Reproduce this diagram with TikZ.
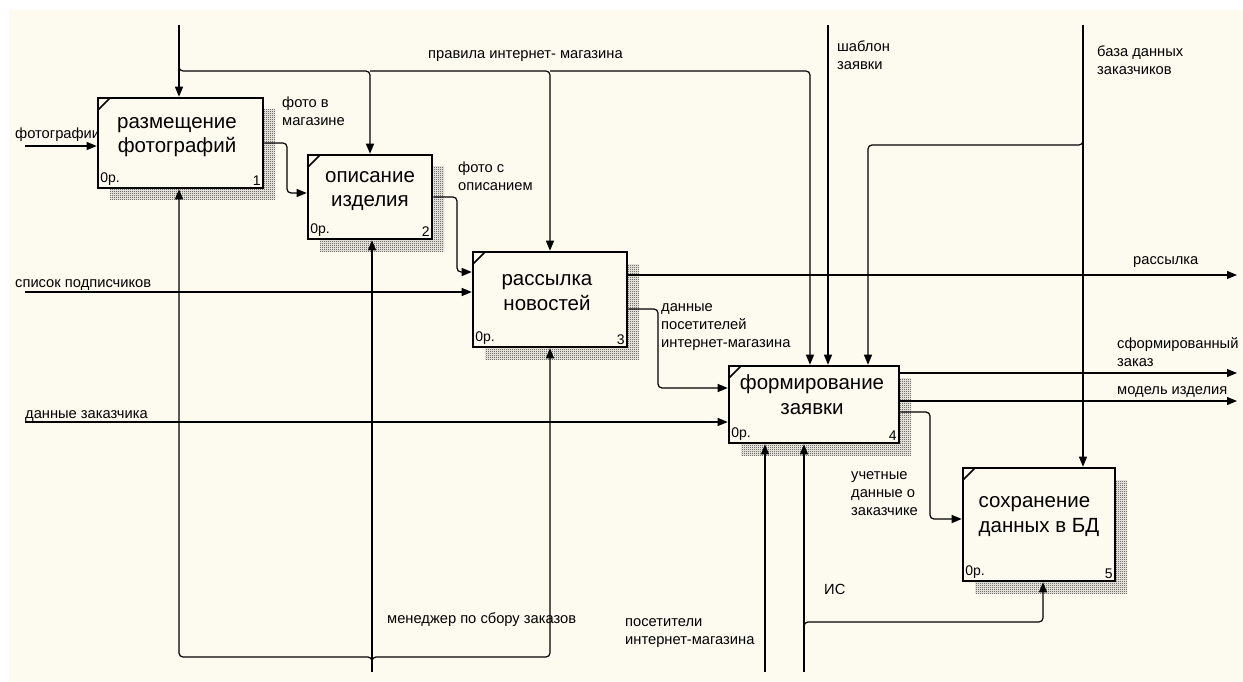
\documentclass[tikz,border=0pt]{standalone}
\usepackage{fontspec}
\setmainfont{Liberation Sans}
\usetikzlibrary{arrows.meta,patterns,shadows}
\definecolor{paper}{RGB}{253,251,239}
\pgfdeclarepatternformonly{checker}{\pgfpointorigin}{\pgfpoint{2pt}{2pt}}{\pgfpoint{2pt}{2pt}}{%
  \pgfpathrectangle{\pgfpointorigin}{\pgfpoint{1pt}{1pt}}%
  \pgfpathrectangle{\pgfpoint{1pt}{1pt}}{\pgfpoint{1pt}{1pt}}%
  \pgfusepath{fill}}

\begin{document}
\begin{tikzpicture}[x=1pt,y=-1pt,
  proc/.style={draw,line width=2.6pt,fill=paper,inner sep=0pt,
    drop shadow={shadow xshift=12pt,shadow yshift=-12pt,opacity=1,
      pattern=checker,pattern color=black!85},
    path picture={\draw[line width=1.6pt]
      ([yshift=-12pt]path picture bounding box.north west) --
      ([xshift=12pt]path picture bounding box.north west);},
    label={[numtext,anchor=south west]south west:0р.}},
  numtext/.style={font=\fontsize{14}{16}\selectfont,inner sep=3.5pt},
  ptext/.style={font=\fontsize{20.5}{24.5}\selectfont,align=center,anchor=base,inner sep=0pt},
  lbl/.style={font=\fontsize{14.7}{18}\selectfont,align=left,anchor=base west,inner sep=0pt},
  arr/.style={-{Triangle[length=10pt,width=8pt]},line width=1.2pt,rounded corners=4pt}]

  % sheet
  \fill[white] (0,0) rectangle (1243,682);
  \fill[paper] (9,10) rectangle (1243,682);
  \useasboundingbox (0,0) rectangle (1243,682);

  % activities
  \node[proc,minimum width=165pt,minimum height=90pt,
    label={[numtext,anchor=south east]south east:1}] (b1) at (180.5,143) {};
  \node[proc,minimum width=124pt,minimum height=84pt,
    label={[numtext,anchor=south east]south east:2}] (b2) at (370,197) {};
  \node[proc,minimum width=154pt,minimum height=95pt,
    label={[numtext,anchor=south east]south east:3}] (b3) at (550,299.5) {};
  \node[proc,minimum width=170pt,minimum height=77pt,
    label={[numtext,anchor=south east]south east:4}] (b4) at (814,404.5) {};
  \node[proc,minimum width=152pt,minimum height=113pt,
    label={[numtext,anchor=south east]south east:5}] (b5) at (1039,524.5) {};

  % base of a multi-line text is its last line
  \node[ptext] (t1) at (177,153) {размещение\\фотографий};
  \node[ptext] (t2) at (370,207) {описание\\изделия};
  \node[ptext] (t3) at (547,310) {рассылка\\новостей};
  \node[ptext] (t4) at (812,414) {формирование\\заявки};
  \node[ptext,align=left] (t5) at (1039,532) {сохранение\\данных в БД};

  % free ends
  \coordinate (photo) at (25,146);
  \coordinate (subs) at (25,292);
  \coordinate (cust) at (25,422);
  \coordinate (rules) at (179,25);
  \coordinate (tmpl) at (828,25);
  \coordinate (dbin) at (1083,25);
  \coordinate (mgr) at (372,672);
  \coordinate (vis) at (765,672);
  \coordinate (is) at (804,672);
  \coordinate (mail) at (1237,275);
  \coordinate (order) at (1237,373);
  \coordinate (model) at (1237,401);

  % inputs and outputs
  \draw[arr] (photo) -- (photo -| b1.west);
  \draw[arr] (subs) -- (subs -| b3.west);
  \draw[arr] (cust) -- (cust -| b4.west);
  \draw[arr] (b1.east) -| (287,193) -- (b2.west |- 0,193);
  \draw[arr] (b2.east) -| (457,272) -- (b3.west |- 0,272);
  \draw[arr] (mail -| b3.east) -- (mail);
  \draw[arr] (b3.east |- 0,309) -| (658,388) -- (b4.west |- 0,388);
  \draw[arr] (order -| b4.east) -- (order);
  \draw[arr] (model -| b4.east) -- (model);
  \draw[arr] (b4.east |- 0,412) -| (930,519) -- (b5.west |- 0,519);

  % controls
  \draw[arr] (rules) -- (rules |- b1.north);
  \draw[arr] (rules |- 0,64) |- (b2.north |- 0,71) -- (b2.north);
  \draw[arr] (b2.north |- 0,71) -| (b3.north);
  \draw[arr] (b3.north |- 0,71) -| (b4.north -| 810,0);
  \draw[arr] (tmpl) -- (tmpl |- b4.north);
  \draw[arr] (dbin) -- (dbin |- b5.north);
  \draw[arr] (dbin |- 0,136) |- (868,145) -- (b4.north -| 868,0);

  % mechanisms
  \draw[arr] (mgr) -- (mgr |- b2.south);
  \draw[arr] (mgr |- 0,664) |- (179,657) -- (b1.south -| 179,0);
  \draw[arr] (mgr |- 0,664) |- (b3.south |- 0,657) -- (b3.south);
  \draw[arr] (vis) -- (vis |- b4.south);
  \draw[arr] (is) -- (is |- b4.south);
  \draw[arr] (is |- 0,630) |- (1043,622) -- (b5.south -| 1043,0);

  % arrow labels
  \node[lbl] (l1) at (15,139) {фотографии};
  \node[lbl] (l2) at (282,126) {фото в\\магазине};
  \node[lbl] (l3) at (458,191) {фото с\\описанием};
  \node[lbl] (l4) at (428,59) {правила интернет- магазина};
  \node[lbl] (l5) at (837,70) {шаблон\\заявки};
  \node[lbl] (l6) at (1097,75) {база данных\\заказчиков};
  \node[lbl] (l7) at (15,287) {список подписчиков};
  \node[lbl] (l8) at (25,418) {данные заказчика};
  \node[lbl] (l9) at (1133,264) {рассылка};
  \node[lbl] (l10) at (661,347) {данные\\посетителей\\интернет-магазина};
  \node[lbl] (l11) at (1117,366) {сформированный\\заказ};
  \node[lbl] (l12) at (1117,394) {модель изделия};
  \node[lbl] (l13) at (851,515) {учетные\\данные о\\заказчике};
  \node[lbl] (l14) at (824,594) {ИС};
  \node[lbl] (l15) at (387,623) {менеджер по сбору заказов};
  \node[lbl] (l16) at (625,644) {посетители\\интернет-магазина};
\end{tikzpicture}
\end{document}
